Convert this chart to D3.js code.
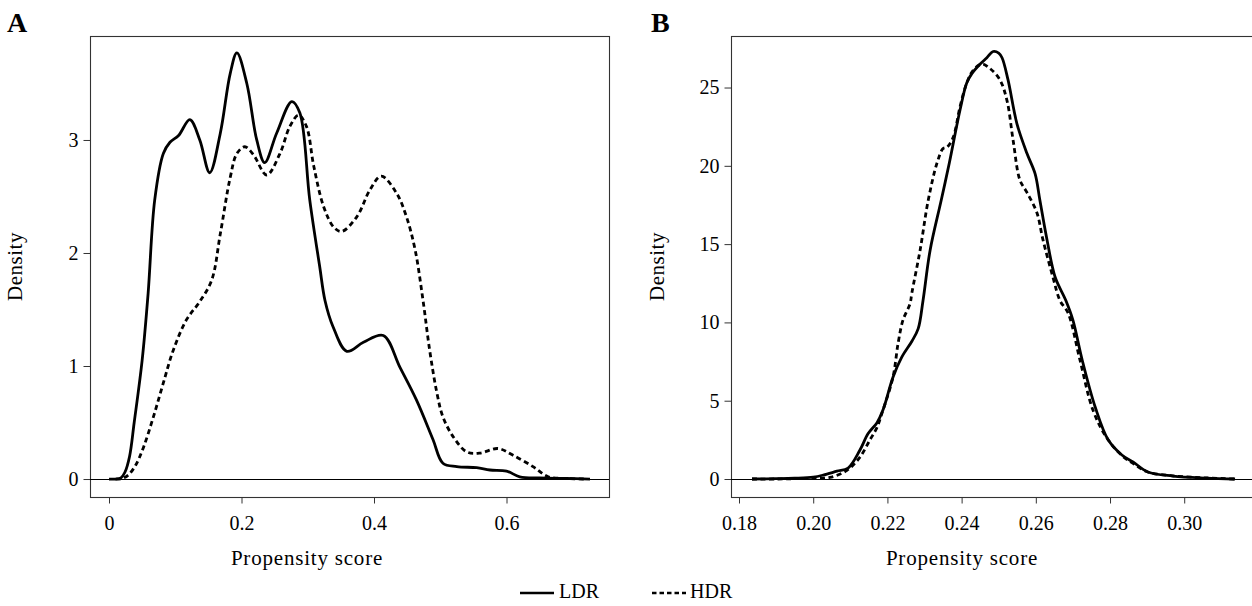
<!DOCTYPE html>
<html>
<head>
<meta charset="utf-8">
<script src="https://cdn.jsdelivr.net/npm/d3@7"></script>
<style>
  html, body { margin: 0; padding: 0; background: #fff; }
  svg { display: block; }
  text { font-family: "Liberation Serif", "DejaVu Serif", serif; fill: #000; }
</style>
</head>
<body>
<svg id="chart" width="1252" height="606"></svg>
<script>
// ---------- Data ----------
// Panel A
const xA_LDR = [0, 0.01, 0.018, 0.024, 0.031, 0.038, 0.05, 0.059, 0.069, 0.082, 0.092, 0.105, 0.122, 0.137, 0.152, 0.168, 0.183, 0.193, 0.208, 0.223, 0.235, 0.253, 0.276, 0.288, 0.303, 0.318, 0.326, 0.338, 0.359, 0.384, 0.414, 0.439, 0.464, 0.489, 0.504, 0.525, 0.555, 0.575, 0.60, 0.62, 0.65, 0.69, 0.726];
const yA_LDR = [0, 0, 0.01, 0.06, 0.2, 0.5, 1.05, 1.64, 2.47, 2.88, 2.98, 3.04, 3.18, 3.0, 2.71, 3.06, 3.59, 3.77, 3.5, 3.0, 2.8, 3.06, 3.34, 3.24, 2.47, 1.88, 1.58, 1.35, 1.13, 1.21, 1.27, 0.99, 0.70, 0.35, 0.14, 0.11, 0.10, 0.08, 0.07, 0.02, 0.01, 0.005, 0];
const xA_HDR = [0.01, 0.02, 0.029, 0.04, 0.052, 0.067, 0.082, 0.097, 0.117, 0.137, 0.155, 0.168, 0.183, 0.193, 0.205, 0.218, 0.238, 0.258, 0.273, 0.286, 0.298, 0.309, 0.324, 0.339, 0.351, 0.374, 0.394, 0.411, 0.434, 0.449, 0.462, 0.474, 0.484, 0.495, 0.504, 0.52, 0.54, 0.56, 0.587, 0.61, 0.64, 0.663, 0.69, 0.72];
const yA_HDR = [0, 0.005, 0.035, 0.12, 0.28, 0.55, 0.85, 1.14, 1.41, 1.57, 1.76, 2.17, 2.67, 2.88, 2.94, 2.87, 2.69, 2.88, 3.12, 3.22, 3.12, 2.77, 2.41, 2.23, 2.19, 2.32, 2.56, 2.68, 2.53, 2.32, 2.03, 1.58, 1.14, 0.76, 0.55, 0.37, 0.24, 0.23, 0.27, 0.21, 0.11, 0.02, 0.005, 0];
const ticksXA = [0, 0.2, 0.4, 0.6];
const ticksYA = [0, 1, 2, 3];

// Panel B
const xB_LDR = [0.1835, 0.19, 0.195, 0.20, 0.2027, 0.2064, 0.2094, 0.2126, 0.2148, 0.2172, 0.2188, 0.2215, 0.2239, 0.2266, 0.2283, 0.2296, 0.2315, 0.2345, 0.2367, 0.2396, 0.2414, 0.2428, 0.2450, 0.2468, 0.2485, 0.2500, 0.2509, 0.2525, 0.2549, 0.2576, 0.2598, 0.2611, 0.2630, 0.2652, 0.2681, 0.2700, 0.2725, 0.2760, 0.2795, 0.2832, 0.2862, 0.2902, 0.2970, 0.306, 0.3137];
const yB_LDR = [0, 0.02, 0.05, 0.12, 0.25, 0.5, 0.7, 1.85, 2.9, 3.6, 4.4, 6.5, 7.8, 8.8, 9.6, 11.4, 14.6, 17.8, 20.2, 23.6, 25.3, 25.9, 26.5, 26.9, 27.3, 27.2, 26.9, 25.5, 22.7, 20.8, 19.5, 17.8, 15.3, 12.9, 11.4, 10.15, 7.6, 4.6, 2.5, 1.53, 1.09, 0.45, 0.19, 0.06, 0];
const xB_HDR = [0.1835, 0.19, 0.195, 0.20, 0.2045, 0.2091, 0.2126, 0.2153, 0.2172, 0.2188, 0.2215, 0.2229, 0.2242, 0.2261, 0.2266, 0.2288, 0.2310, 0.2334, 0.2350, 0.2361, 0.2377, 0.2396, 0.2414, 0.2431, 0.2455, 0.2477, 0.2503, 0.2522, 0.2539, 0.2557, 0.2576, 0.2603, 0.2619, 0.2646, 0.2665, 0.2687, 0.2719, 0.2754, 0.2792, 0.2832, 0.2862, 0.2902, 0.2970, 0.306, 0.3137];
const yB_HDR = [0, 0, 0.02, 0.05, 0.1, 0.55, 1.4, 2.5, 3.3, 4.4, 6.5, 8.7, 10.15, 11.2, 11.9, 14.6, 17.8, 20.2, 21.1, 21.2, 21.8, 23.8, 25.3, 26.1, 26.5, 26.2, 25.5, 24.2, 21.6, 19.1, 18.3, 17.0, 15.3, 12.9, 11.4, 10.6, 7.6, 4.4, 2.6, 1.5, 1.0, 0.45, 0.2, 0.07, 0];
const ticksXB = [0.18, 0.20, 0.22, 0.24, 0.26, 0.28, 0.30];
const ticksYB = [0, 5, 10, 15, 20, 25];

const seriesNames = ["LDR", "HDR"];
const panelLabels = ["A", "B"];
const xTitle = "Propensity score";
const yTitle = "Density";

// ---------- Drawing ----------
const svg = d3.select("#chart");
const FS = 20;

function zip(xs, ys) { return xs.map((x, i) => [x, ys[i]]); }

function panel(cfg) {
  const g = svg.append("g");
  const x = d3.scaleLinear().domain(cfg.xDomain).range([cfg.left, cfg.right]);
  const y = d3.scaleLinear().domain(cfg.yDomain).range([cfg.bottom, cfg.top]);

  // frame
  g.append("rect")
    .attr("x", cfg.left + 0.5).attr("y", cfg.top + 0.5)
    .attr("width", cfg.right - cfg.left).attr("height", cfg.bottom - cfg.top)
    .attr("fill", "none").attr("stroke", "#333").attr("stroke-width", 1.1);

  // x axis
  const xAxis = d3.axisBottom(x).tickValues(cfg.xTicks).tickSize(6).tickPadding(12)
    .tickFormat(cfg.xFmt).tickSizeOuter(0);
  const gx = g.append("g").attr("transform", `translate(0,${cfg.bottom + 0.5})`).call(xAxis);
  gx.select(".domain").remove();
  gx.selectAll("line").attr("stroke", "#333");
  gx.selectAll("text").style("font-size", FS + "px").style("font-family", '"Liberation Serif", serif');

  // y axis
  const yAxis = d3.axisLeft(y).tickValues(cfg.yTicks).tickSize(7).tickPadding(5)
    .tickFormat(d3.format("d")).tickSizeOuter(0);
  const gy = g.append("g").attr("transform", `translate(${cfg.left + 0.5},0)`).call(yAxis);
  gy.select(".domain").remove();
  gy.selectAll("line").attr("stroke", "#333");
  gy.selectAll("text").style("font-size", FS + "px").style("font-family", '"Liberation Serif", serif');

  // zero line
  g.append("line")
    .attr("x1", cfg.left).attr("x2", cfg.right)
    .attr("y1", Math.round(y(0)) + 0.5).attr("y2", Math.round(y(0)) + 0.5)
    .attr("stroke", "#000").attr("stroke-width", 1.1);

  const line = d3.line().x(d => x(d[0])).y(d => y(Math.max(0, d[1])))
    .curve(d3.curveCatmullRom.alpha(0.5));

  g.append("path").datum(zip(cfg.hdrX, cfg.hdrY))
    .attr("d", line).attr("fill", "none").attr("stroke", "#000")
    .attr("stroke-width", 2.8).attr("stroke-dasharray", "5,3.5");
  g.append("path").datum(zip(cfg.ldrX, cfg.ldrY))
    .attr("d", line).attr("fill", "none").attr("stroke", "#000")
    .attr("stroke-width", 2.8).attr("stroke-linejoin", "round");

  // titles
  g.append("text").attr("x", cfg.xTitleX).attr("y", 565)
    .attr("text-anchor", "middle").style("font-size", "21px").style("letter-spacing", "0.8px")
    .text(xTitle);
  g.append("text")
    .attr("transform", `translate(${cfg.yTitleX},${(cfg.top + cfg.bottom) / 2}) rotate(-90)`)
    .attr("text-anchor", "middle").style("font-size", "21px").style("letter-spacing", "0.5px")
    .text(yTitle);
  g.append("text").attr("x", cfg.labelX).attr("y", 32)
    .style("font-size", "28px").style("font-weight", "bold")
    .text(cfg.label);
}

panel({
  left: 90, right: 609, top: 36, bottom: 497,
  xDomain: [-0.0287, 0.7547], yDomain: [-0.159, 3.92],
  xTicks: ticksXA, yTicks: ticksYA,
  xFmt: d => d === 0 ? "0" : d3.format(".1f")(d),
  ldrX: xA_LDR, ldrY: yA_LDR, hdrX: xA_HDR, hdrY: yA_HDR,
  xTitleX: 307, yTitleX: 22, labelX: 7, label: panelLabels[0]
});

panel({
  left: 731, right: 1253, top: 36, bottom: 497,
  xDomain: [0.17784, 0.31854], yDomain: [-1.149, 28.29],
  xTicks: ticksXB, yTicks: ticksYB,
  xFmt: d3.format(".2f"),
  ldrX: xB_LDR, ldrY: yB_LDR, hdrX: xB_HDR, hdrY: yB_HDR,
  xTitleX: 962, yTitleX: 664, labelX: 651, label: panelLabels[1]
});

// legend
const leg = svg.append("g");
const legItems = [
  { name: seriesNames[0], x1: 520, x2: 554, tx: 559, dash: null },
  { name: seriesNames[1], x1: 652, x2: 686, tx: 690, dash: "4.5,3" }
];
legItems.forEach(it => {
  leg.append("line").attr("x1", it.x1).attr("x2", it.x2).attr("y1", 593).attr("y2", 593)
    .attr("stroke", "#000").attr("stroke-width", 2.3)
    .attr("stroke-dasharray", it.dash);
  leg.append("text").attr("x", it.tx).attr("y", 598).style("font-size", "20px").text(it.name);
});
</script>
</body>
</html>
